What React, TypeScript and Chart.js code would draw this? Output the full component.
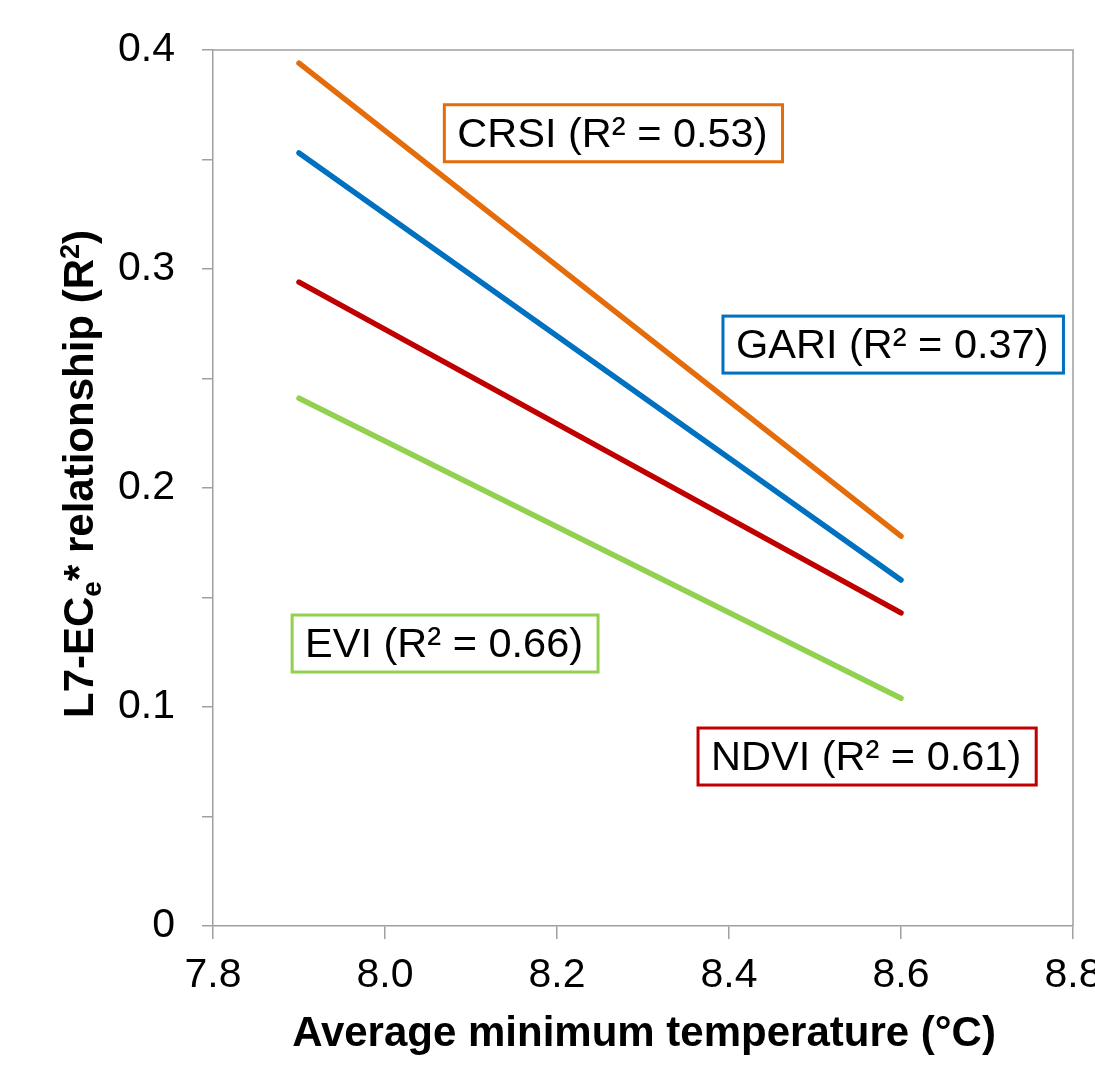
import React, { useEffect, useRef } from 'react';
import { Chart, registerables } from 'chart.js';

Chart.register(...registerables);

// ---- data ----
const xEndpoints = [7.9, 8.6];
const seriesNames = ['CRSI', 'GARI', 'NDVI', 'EVI'];
const crsiValues = [0.394, 0.178];
const gariValues = [0.353, 0.158];
const ndviValues = [0.294, 0.143];
const eviValues = [0.241, 0.104];
const r2Values = ['0.53', '0.37', '0.61', '0.66'];
const xTickValues = [7.8, 8.0, 8.2, 8.4, 8.6, 8.8];
const yMajorTickLabels = ['0', '0.1', '0.2', '0.3', '0.4'];
// label box anchors (top-left corner) in data units: [x, y]
const labelAnchors = [
  [8.069, 0.375],
  [8.393, 0.2785],
  [8.364, 0.0904],
  [7.892, 0.142],
];

const seriesColors = ['#E46C0A', '#0070C0', '#C00000', '#92D050'];
const AXIS_COLOR = '#a0a0a0';
const FONT = '"Liberation Sans", Arial, sans-serif';

const framePlugin = {
  id: 'frame',
  beforeDatasetsDraw(chart: any) {
    const { ctx, chartArea } = chart;
    ctx.save();
    ctx.strokeStyle = AXIS_COLOR;
    ctx.lineWidth = 1.5;
    ctx.beginPath();
    ctx.moveTo(chartArea.left, chartArea.top);
    ctx.lineTo(chartArea.right, chartArea.top);
    ctx.lineTo(chartArea.right, chartArea.bottom);
    ctx.stroke();
    ctx.restore();
  },
};

const labelsPlugin = {
  id: 'labelBoxes',
  afterDatasetsDraw(chart: any) {
    const { ctx, scales } = chart;
    ctx.save();
    ctx.font = `41.5px ${FONT}`;
    ctx.textBaseline = 'middle';
    ctx.textAlign = 'left';
    seriesNames.forEach((name, i) => {
      const text = `${name} (R\u00B2 = ${r2Values[i]})`;
      const x = scales.x.getPixelForValue(labelAnchors[i][0]);
      const y = scales.y.getPixelForValue(labelAnchors[i][1]);
      const w = ctx.measureText(text).width + 28;
      const h = 57;
      ctx.fillStyle = '#ffffff';
      ctx.fillRect(x, y, w, h);
      ctx.strokeStyle = seriesColors[i];
      ctx.lineWidth = 3;
      ctx.strokeRect(x, y, w, h);
      ctx.fillStyle = '#000000';
      ctx.fillText(text, x + 13, y + h / 2 + 2);
    });
    ctx.restore();
  },
};

const titlesPlugin = {
  id: 'axisTitles',
  afterDraw(chart: any) {
    const { ctx, chartArea } = chart;
    ctx.save();
    ctx.fillStyle = '#000000';
    // x title
    ctx.font = `bold 42px ${FONT}`;
    ctx.textAlign = 'center';
    ctx.textBaseline = 'alphabetic';
    ctx.fillText('Average minimum temperature (\u00B0C)', (chartArea.left + chartArea.right) / 2 + 1, chartArea.bottom + 120);

    // y title with sub/superscripts
    const segs = [
      { t: 'L7-EC', size: 42, dy: 0 },
      { t: 'e', size: 28, dy: 8 },
      { t: '*', size: 42, dy: 0 },
      { t: ' relationship (R', size: 42, dy: 0 },
      { t: '2', size: 27, dy: -14 },
      { t: ')', size: 42, dy: 0 },
    ];
    let total = 0;
    const widths = segs.map((s) => {
      ctx.font = `bold ${s.size}px ${FONT}`;
      const w = ctx.measureText(s.t).width;
      total += w;
      return w;
    });
    const cy = (chartArea.top + chartArea.bottom) / 2 - 14;
    ctx.translate(93, cy);
    ctx.rotate(-Math.PI / 2);
    ctx.textAlign = 'left';
    let pos = -total / 2;
    segs.forEach((s, i) => {
      ctx.font = `bold ${s.size}px ${FONT}`;
      ctx.fillText(s.t, pos, s.dy);
      pos += widths[i];
    });
    ctx.restore();
  },
};

function isMajorY(v: number) {
  return Math.abs(v * 10 - Math.round(v * 10)) < 1e-6;
}

export default function App() {
  const canvasRef = useRef<HTMLCanvasElement | null>(null);

  useEffect(() => {
    const canvas = canvasRef.current;
    if (!canvas) return;
    const valueSets = [crsiValues, gariValues, ndviValues, eviValues];
    const chart = new Chart(canvas, {
      type: 'scatter',
      data: {
        datasets: seriesNames.map((name, i) => ({
          label: name,
          data: xEndpoints.map((x, j) => ({ x, y: valueSets[i][j] })),
          showLine: true,
          borderColor: seriesColors[i],
          backgroundColor: seriesColors[i],
          borderWidth: 5.5,
          borderCapStyle: 'round',
          pointRadius: 0,
          pointHoverRadius: 0,
        })),
      },
      options: {
        responsive: false,
        animation: false,
        devicePixelRatio: 1,
        layout: { padding: { top: 50, right: 22, left: 0, bottom: 0 } },
        plugins: {
          legend: { display: false },
          tooltip: { enabled: false },
          title: { display: false },
        },
        scales: {
          x: {
            type: 'linear',
            min: xTickValues[0],
            max: xTickValues[xTickValues.length - 1],
            afterBuildTicks(scale: any) {
              scale.ticks = xTickValues.map((v) => ({ value: v }));
            },
            ticks: {
              autoSkip: false,
              maxRotation: 0,
              minRotation: 0,
              padding: 12,
              color: '#000000',
              font: { family: FONT, size: 41 },
              callback: (v: any) => Number(v).toFixed(1),
            },
            grid: {
              display: true,
              drawOnChartArea: false,
              drawTicks: true,
              tickLength: 13,
              color: AXIS_COLOR,
              lineWidth: 1.5,
            },
            border: { display: true, color: AXIS_COLOR, width: 1.5 },
            afterFit(scale: any) {
              scale.height = 149;
              scale.paddingLeft = 0;
              scale.paddingRight = 0;
            },
          },
          y: {
            type: 'linear',
            min: 0,
            max: 0.4,
            ticks: {
              stepSize: 0.05,
              autoSkip: false,
              padding: 27,
              color: '#000000',
              font: { family: FONT, size: 41 },
              callback: (v: any) => {
                const n = Number(v);
                if (!isMajorY(n)) return '';
                return yMajorTickLabels[Math.round(n * 10)];
              },
            },
            grid: {
              display: true,
              drawOnChartArea: false,
              drawTicks: true,
              tickLength: 11,
              color: AXIS_COLOR,
              lineWidth: 1.5,
            },
            border: { display: true, color: AXIS_COLOR, width: 1.5 },
            afterFit(scale: any) {
              scale.width = 213;
              scale.paddingTop = 0;
              scale.paddingBottom = 0;
            },
          },
        },
      },
      plugins: [framePlugin, labelsPlugin, titlesPlugin],
    } as any);
    return () => chart.destroy();
  }, []);

  return (
    <div style={{ position: 'absolute', left: 0, top: 0, width: 1095, height: 1075, background: '#ffffff' }}>
      <canvas ref={canvasRef} width={1095} height={1075} style={{ display: 'block', width: 1095, height: 1075 }} />
    </div>
  );
}
